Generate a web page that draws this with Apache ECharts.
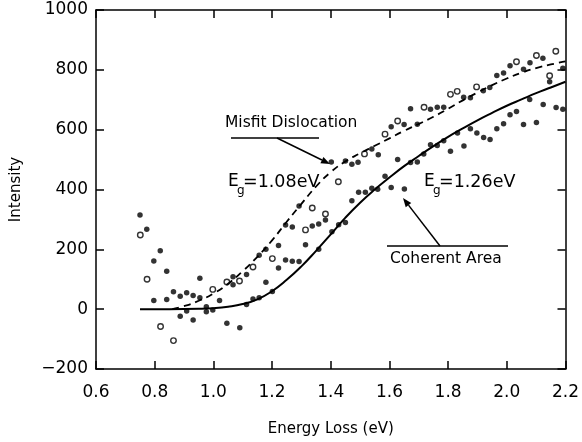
<!DOCTYPE html>
<html>
<head>
<meta charset="utf-8">
<script src="https://cdn.jsdelivr.net/npm/echarts@6/dist/echarts.min.js"></script>
<style>
  html, body { margin: 0; padding: 0; background: #fff; }
  #chart { width: 582px; height: 442px; }
</style>
</head>
<body>
<div id="chart"></div>
<script>
// axis ticks
var xTicks = { min: 0.6, max: 2.2, step: 0.2 };
var yTicks = { min: -200, max: 1000, step: 200 };

// measured points, filled dots
var filledPts = [
  [0.75,315],[0.773,267],[0.819,195],[0.797,161],[0.841,127],[0.797,29],[0.841,32],
  [0.864,58],[0.887,43],[0.909,55],[0.931,46],[0.954,103],[0.954,38],[0.887,-24],
  [0.909,-6],[0.931,-36],[0.976,8],[0.976,-9],[0.998,-3],[1.021,29],[1.067,108],
  [1.067,82],[1.113,116],[1.046,-47],[1.090,-62],[1.113,16],[1.135,34],[1.222,213],
  [1.179,200],[1.222,138],[1.179,90],[1.201,59],[1.156,38],[1.156,180],[1.246,164],
  [1.269,160],[1.292,159],[1.246,281],[1.269,275],[1.292,345],[1.359,285],[1.337,278],
  [1.382,298],[1.314,215],[1.359,200],[1.404,259],[1.427,282],[1.450,290],[1.472,362],
  [1.495,391],[1.518,391],[1.540,404],[1.560,401],[1.606,407],[1.651,402],[1.585,444],
  [1.402,492],[1.450,495],[1.472,484],[1.493,491],[1.540,535],[1.562,516],[1.628,500],
  [1.606,610],[1.672,490],[1.695,492],[1.717,519],[1.740,550],[1.763,547],[1.785,563],
  [1.808,528],[1.832,589],[1.854,545],[1.876,603],[1.898,589],[1.921,574],[1.943,567],
  [1.966,603],[1.989,620],[2.011,650],[2.033,661],[2.057,617],[2.078,701],[2.101,624],
  [2.124,684],[2.146,760],[2.168,674],[2.191,668],[2.191,805],[1.650,617],[1.695,618],
  [1.672,670],[1.740,668],[1.763,675],[1.785,675],[1.853,708],[1.876,707],[1.920,730],
  [1.942,741],[1.966,781],[1.989,789],[2.011,814],[2.057,802],[2.079,824],[2.123,839]
];

// measured points, open circles
var openPts = [
  [0.751,248],[0.774,100],[0.820,-58],[0.864,-105],[0.998,66],[1.046,91],[1.089,94],
  [1.135,141],[1.201,169],[1.314,265],[1.337,338],[1.382,318],[1.426,426],[1.515,519],
  [1.585,585],[1.628,629],[1.718,675],[1.808,718],[1.831,728],[1.897,743],[2.033,827],
  [2.101,848],[2.146,780],[2.167,862]
];

// fitted curves
var coherentFit = [
  [0.75,0],[0.85,0],[0.95,1],[1.0,3],[1.05,8],[1.1,17],[1.15,33],[1.2,60],[1.25,98],
  [1.3,143],[1.35,195],[1.4,250],[1.45,306],[1.5,356],[1.55,400],[1.6,440],[1.65,478],
  [1.7,512],[1.75,545],[1.8,576],[1.85,604],[1.9,631],[1.95,656],[2.0,680],[2.05,701],
  [2.1,722],[2.15,741],[2.2,760]
];
var misfitFit = [
  [0.86,0],[0.9,10],[0.95,28],[1.0,52],[1.05,85],[1.1,127],[1.15,175],[1.2,230],
  [1.25,292],[1.3,352],[1.35,410],[1.4,458],[1.45,494],[1.5,521],[1.55,546],[1.6,571],
  [1.65,596],[1.7,619],[1.75,643],[1.8,670],[1.85,698],[1.9,724],[1.95,749],[2.0,771],
  [2.05,790],[2.1,806],[2.15,818],[2.2,828]
];

var FONT = 'DejaVu Sans';
var INK = '#000';

function arrow(x1, y1, x2, y2) {
  var dx = x2 - x1, dy = y2 - y1, len = Math.sqrt(dx * dx + dy * dy);
  var ux = dx / len, uy = dy / len, L = 9, W = 3.5;
  var bx = x2 - ux * L, by = y2 - uy * L;
  return [
    { type: 'line', shape: { x1: x1, y1: y1, x2: bx, y2: by }, style: { stroke: INK, lineWidth: 1.5 } },
    { type: 'polygon', shape: { points: [[x2, y2], [bx - uy * W, by + ux * W], [bx + uy * W, by - ux * W]] }, style: { fill: INK } }
  ];
}

function txt(x, y, s, size) {
  return { type: 'text', x: x, y: y, style: { text: s, font: size + 'px "' + FONT + '"', fill: INK, verticalAlign: 'middle' } };
}

var graphics = [
  txt(225, 123, 'Misfit Dislocation', 15.5),
  { type: 'line', shape: { x1: 231, y1: 138, x2: 319, y2: 138 }, style: { stroke: INK, lineWidth: 1.5 } },
  txt(228, 182, 'E', 17), txt(237, 191, 'g', 12), txt(243, 182, '=1.08eV', 17.5),
  txt(424, 182, 'E', 17), txt(433, 191, 'g', 12), txt(439, 182, '=1.26eV', 17.5),
  { type: 'line', shape: { x1: 387, y1: 246, x2: 508, y2: 246 }, style: { stroke: INK, lineWidth: 1.5 } },
  txt(390, 259, 'Coherent Area', 15.5)
].concat(arrow(277, 138, 330, 164)).concat(arrow(440, 246, 403, 198));

function xAxisCfg(pos, show) {
  return {
    type: 'value', position: pos, min: xTicks.min, max: xTicks.max, interval: xTicks.step,
    axisLine: { show: true, onZero: false, lineStyle: { color: INK, width: 1.5 } },
    axisTick: { show: true, inside: true, length: 8, lineStyle: { color: INK, width: 1.5 } },
    axisLabel: { show: show, margin: 15, color: INK, fontFamily: FONT, fontSize: 17,
      formatter: function (v) { return v.toFixed(1); } },
    splitLine: { show: false },
    name: show ? 'Energy Loss (eV)' : '', nameLocation: 'middle', nameGap: 53,
    nameTextStyle: { color: INK, fontFamily: FONT, fontSize: 15 }
  };
}
function yAxisCfg(pos, show) {
  return {
    type: 'value', position: pos, min: yTicks.min, max: yTicks.max, interval: yTicks.step,
    axisLine: { show: true, onZero: false, lineStyle: { color: INK, width: 1.5 } },
    axisTick: { show: true, inside: true, length: 8, lineStyle: { color: INK, width: 1.5 } },
    axisLabel: { show: show, margin: 8, color: INK, fontFamily: FONT, fontSize: 17,
      formatter: function (v) { return String(v).replace('-', '\u2212'); } },
    splitLine: { show: false },
    name: show ? 'Intensity' : '', nameLocation: 'middle', nameGap: 72, nameRotate: 90,
    nameTextStyle: { color: INK, fontFamily: FONT, fontSize: 15 }
  };
}

var chart = echarts.init(document.getElementById('chart'));
chart.setOption({
  animation: false,
  backgroundColor: '#fff',
  grid: { left: 96, right: 14, top: 10, bottom: 67 },
  xAxis: [xAxisCfg('bottom', true), xAxisCfg('top', false)],
  yAxis: [yAxisCfg('left', true), yAxisCfg('right', false)],
  series: [
    { type: 'line', data: coherentFit, smooth: 0.5, symbol: 'none',
      lineStyle: { color: INK, width: 2 } },
    { type: 'line', data: misfitFit, smooth: 0.5, symbol: 'none',
      lineStyle: { color: INK, width: 1.8, type: [7, 5] } },
    { type: 'scatter', data: filledPts, symbol: 'circle', symbolSize: 5.5,
      itemStyle: { color: INK } },
    { type: 'scatter', data: openPts, symbol: 'circle', symbolSize: 5.5,
      itemStyle: { color: '#fff', borderColor: INK, borderWidth: 1.4 } }
  ],
  graphic: graphics
});
</script>
</body>
</html>
